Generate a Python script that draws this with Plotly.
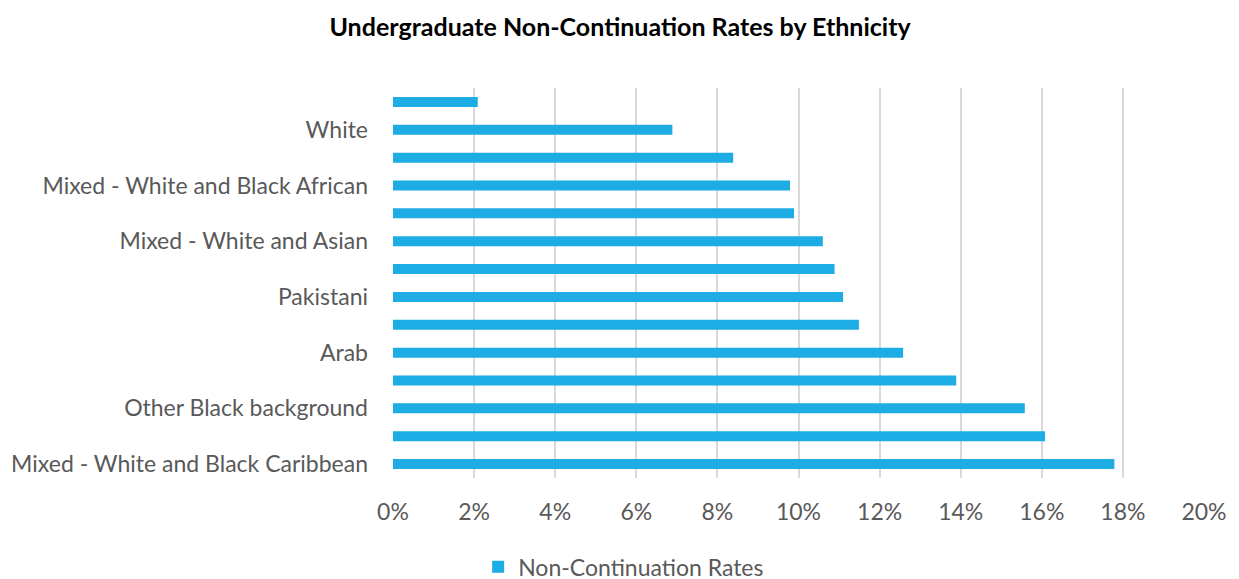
import plotly.graph_objects as go

# Categories listed top to bottom as in the reference
categories = [
    "Chinese",
    "White",
    "Indian",
    "Mixed - White and Black African",
    "Other Asian background",
    "Mixed - White and Asian",
    "Bangladeshi",
    "Pakistani",
    "Other Mixed background",
    "Arab",
    "Black African",
    "Other Black background",
    "Black Caribbean",
    "Mixed - White and Black Caribbean",
]
rates = [0.0209, 0.0689, 0.0839, 0.0979, 0.0989, 0.1060, 0.1089,
         0.1110, 0.1149, 0.1258, 0.1389, 0.1558, 0.1608, 0.1779]
shown_labels = [
    "White",
    "Mixed - White and Black African",
    "Mixed - White and Asian",
    "Pakistani",
    "Arab",
    "Other Black background",
    "Mixed - White and Black Caribbean",
]
x_ticks = [0, 0.02, 0.04, 0.06, 0.08, 0.10, 0.12, 0.14, 0.16, 0.18, 0.20]

fig = go.Figure()
fig.add_trace(go.Bar(
    x=rates, y=categories, orientation="h",
    name="Non-Continuation Rates",
    marker=dict(color="#1DACE3", line=dict(width=0)),
    width=0.36,
))

fig.update_layout(
    width=1239, height=579,
    paper_bgcolor="white", plot_bgcolor="white",
    margin=dict(l=385, r=43, t=80, b=109, autoexpand=False),
    font=dict(family="Lato", color="#595959", size=23),
    title=dict(text="<b>Undergraduate Non-Continuation Rates by Ethnicity</b>",
               x=0.494, xanchor="center", y=0.967, yanchor="middle",
               font=dict(family="Lato", size=25, color="black")),
    showlegend=True,
    legend=dict(orientation="h", x=0.105, xanchor="left", y=-0.228, yanchor="middle",
                itemwidth=30, font=dict(size=23, color="#595959")),
    bargap=0.64,
)
fig.update_xaxes(
    range=[0, 0.2], tickvals=x_ticks, tickformat=".0%",
    showgrid=True, gridcolor="#D9D9D9", gridwidth=1.5,
    zeroline=False, showline=False, ticks="",
    ticklabelstandoff=18, automargin=False,
)
fig.update_yaxes(
    categoryorder="array", categoryarray=categories, autorange="reversed",
    tickmode="array", tickvals=shown_labels, ticktext=shown_labels,
    showgrid=False, zeroline=False, showline=False, ticks="",
    ticklabelstandoff=24, automargin=False,
)

fig.write_html("out.html")
